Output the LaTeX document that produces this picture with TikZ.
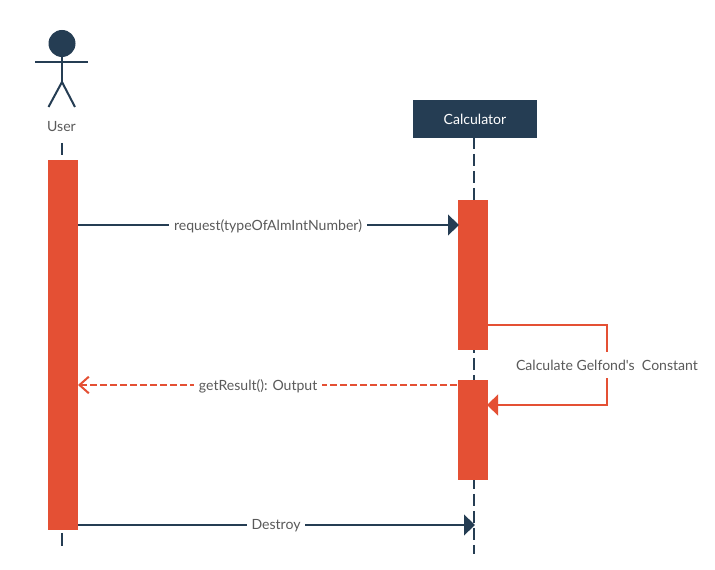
\documentclass[tikz,border=0pt]{standalone}
\usepackage{fontspec}
\setmainfont{Lato}
\newfontfamily\plainlato{Lato}
\usetikzlibrary{arrows.meta,calc}
\definecolor{navy}{HTML}{253D53}
\definecolor{redbar}{HTML}{E45034}
\definecolor{txt}{HTML}{5A5A5A}
\tikzset{
 x=0.75pt,y=-0.75pt,
 every node/.style={font=\fontsize{10.55pt}{12pt}\selectfont,text=txt,inner sep=0pt,outer sep=0pt},
 activation/.style={fill=redbar,draw=none,minimum width=22.5pt,anchor=north west},
 lifeline/.style={navy,line width=1.5pt,dash pattern=on 9pt off 3.75pt,dash phase=0.75pt},
 actorline/.style={navy,line width=1.5pt},
 msg/.style={navy,line width=1.5pt,shorten >=-0.75pt,-{Triangle[length=8.25pt,width=15.5pt,fill=navy]}},
 ret/.style={redbar,line width=1.5pt,dash pattern=on 5.25pt off 2.25pt,dash phase=6.75pt,-{Straight Barb[length=7pt,width=12.5pt]}},
 selfmsg/.style={redbar,line width=1.5pt,shorten >=-0.75pt,-{Triangle[length=8.25pt,width=15.5pt,fill=redbar]}},
 lbl/.style={fill=white,inner xsep=3.75pt,inner ysep=3pt,yshift=-0.75pt},
}
\begin{document}
\begin{tikzpicture}
\path[use as bounding box,fill=white] (0,0) rectangle (715,570);
% actor
\node[circle,fill=navy,minimum size=20.25pt] (head) at (62,43.5) {};
\coordinate (hip) at (62,82);
\coordinate (handl) at (35,62);
\coordinate (handr) at (88,62);
\coordinate (footl) at (48.5,107);
\coordinate (footr) at (75,107);
\draw[actorline] (handl) -- (handr);
\draw[actorline] (head.south) -- (hip);
\draw[actorline] (footl) -- (hip) -- (footr);
\node (user) at (61.5,127) {User};
% header
\node[fill=navy,minimum width=93pt,minimum height=28.5pt,text=white,anchor=north west] (calc) at (413,100) {Calculator};
% lifelines
\coordinate (utop) at (62,143);
\coordinate (utopend) at (62,155);
\coordinate (ubotstart) at (62,533);
\coordinate (ubot) at (62,546);
\coordinate (cbot) at (474,554);
\draw[actorline] (utop) -- (utopend);
\draw[actorline] (ubotstart) -- (ubot);
\draw[lifeline] (calc.south -| cbot) -- (cbot);
% activation bars
\node[activation,minimum height=277.5pt] (ubar) at (48,160) {};
\node[activation,minimum height=112.5pt] (cbarA) at (458,200) {};
\node[activation,minimum height=75pt] (cbarB) at (458,380) {};
% messages
\draw[msg] (ubar.east |- 0,225) -- node[lbl,pos=0.5] (m1) {request(typeOfAlmIntNumber)} (cbarA.west |- 0,225);
\draw[ret] (cbarB.west |- 0,385) -- node[lbl,pos=0.526] (m2) {getResult(): Output} (ubar.east |- 0,385);
\coordinate (selfr) at (607,325);
\coordinate (selfs) at (607,405);
\draw[selfmsg] (cbarA.east |- selfr) -- (selfr) -- (selfs) -- (cbarB.east |- selfs);
\node[fill=white,inner xsep=3.75pt,inner ysep=0pt,minimum height=19.5pt] (m3) at (607,365) {\plainlato Calculate Gelfond's\ \ Constant};
\draw[msg] (ubar.east |- 0,525) -- node[lbl,pos=0.5] (m4) {Destroy} (cbot |- 0,525);
\end{tikzpicture}
\end{document}
